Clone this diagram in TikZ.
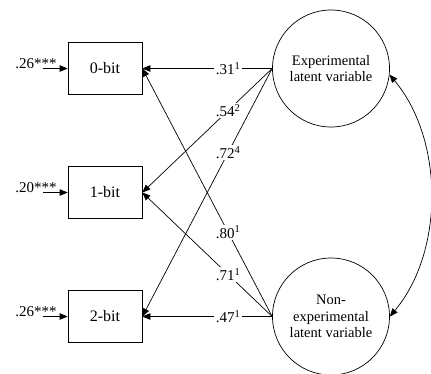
\documentclass[tikz,border=0pt]{standalone}
\usepackage{fontspec}
\setmainfont{Liberation Serif}
\usepackage{tikz}
\usetikzlibrary{arrows.meta, positioning}
\tikzset{
    indicator/.style={
           rectangle,
           draw=black,
           minimum width=74pt,
           minimum height=52pt,
           font=\fontsize{16}{18}\selectfont,
           text centered,
           },
    latent/.style={
           circle,
           draw=black,
           minimum size=117pt,
           inner sep=0pt,
           align=center,
           font=\fontsize{14.5}{16.5}\selectfont,
           },
    loading/.style={
           fill=white,
           inner sep=1.5pt,
           pos=0.34,
           font=\fontsize{15}{17}\selectfont,
           },
    errlabel/.style={
           anchor=base east,
           inner sep=0pt,
           xshift=14pt,
           font=\fontsize{15}{17}\selectfont,
           },
}

\begin{document}
\begin{tikzpicture}[->,>={Triangle[length=8pt,width=6.5pt]},x=1pt,y=1pt,line width=0.7pt,node distance=124pt]
  \useasboundingbox (0,0) rectangle (431,-373);
  \node[indicator]                                    (Bit0)    at (105,-68.5) {0-bit};
  \node[indicator, below of=Bit0]                     (Bit1)    {1-bit};
  \node[indicator, below of=Bit1]                     (Bit2)    {2-bit};
  \node[latent, right of=Bit0, node distance=226pt]   (Exp)     {Experimental\\latent variable};
  \node[latent, right of=Bit2, node distance=226pt]   (NonExp)  {Non-\\experimental\\latent variable};

  % error terms
  \coordinate[left of=Bit0, node distance=62pt] (Err0);
  \coordinate[left of=Bit1, node distance=62pt] (Err1);
  \coordinate[left of=Bit2, node distance=62pt] (Err2);
  \draw (Err0) node[errlabel]{.26***} -- (Bit0);
  \draw (Err1) node[errlabel]{.20***} -- (Bit1);
  \draw (Err2) node[errlabel]{.26***} -- (Bit2);

  % loadings
  \draw (Exp.west)     --   node[loading]{.31\textsuperscript{1}}   (Bit0.east);
  \draw (Exp.west)     --   node[loading]{.54\textsuperscript{2}}   (Bit1.east);
  \draw (Exp.west)     --   node[loading]{.72\textsuperscript{4}}   (Bit2.east);
  \draw (NonExp.west)  --   node[loading]{.80\textsuperscript{1}}   (Bit0.east);
  \draw (NonExp.west)  --   node[loading]{.71\textsuperscript{1}}   (Bit1.east);
  \draw (NonExp.west)  --   node[loading]{.47\textsuperscript{1}}   (Bit2.east);

  % covariance
  \draw[<->] (Exp.-6) to[out=-50, in=50, looseness=0.9] (NonExp.0);
\end{tikzpicture}
\end{document}
